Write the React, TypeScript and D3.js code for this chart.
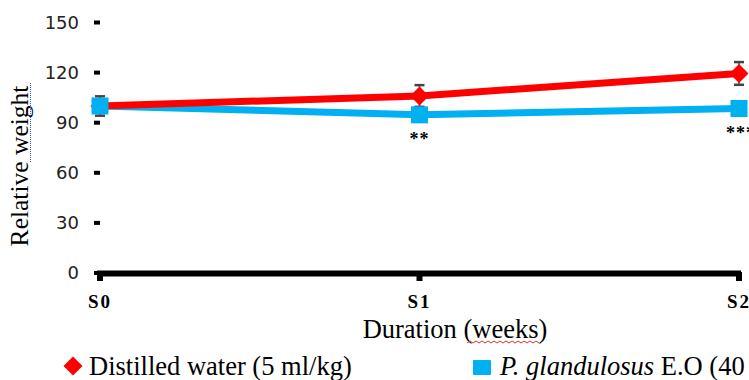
import React from 'react';
import * as d3 from 'd3';

const weeks = ['S0', 'S1', 'S2'];
const yTicks = [0, 30, 60, 90, 120, 150];
const waterMean = [100, 106, 119.5];
const waterErr = [3, 6.5, 6.8];
const oilMean = [100, 94.7, 98.5];
const oilErr = [5.8, 3, 3];
const stars = ['', '**', '***'];

const width = 749;
const height = 380;
const serif = "'Liberation Serif', 'Times New Roman', serif";

const App = () => {
  const x = d3.scalePoint().domain(weeks).range([100, 739]);
  const y = d3.scaleLinear().domain([0, 150]).range([273, 22.5]);

  const line = d3.line<number>()
    .x((d, i) => x(weeks[i])!)
    .y(d => y(d));

  const diamond = d3.symbol().type(d3.symbolDiamond2).size(230)();

  return (
    <svg width={width} height={height} style={{ position: 'absolute', left: 0, top: 0 }}>
      <rect width={width} height={height} fill="#fff" />

      {/* y ticks: only small square marks, no axis line */}
      <g fontFamily="'DejaVu Sans', Verdana, sans-serif" fontSize={18} fill="#222">
        {yTicks.map(t => (
          <g key={t}>
            <rect x={94} y={y(t) - 2} width={6} height={4} fill="#000" />
            <text x={79} y={y(t)} dy="0.35em" textAnchor="end">{t}</text>
          </g>
        ))}
      </g>

      {/* x axis */}
      <rect x={97} y={270.5} width={644} height={6} fill="#000" />
      {weeks.map(w => (
        <g key={w}>
          <rect x={x(w)! - 3} y={272} width={6} height={9} fill="#000" />
          <text x={x(w)} y={308} textAnchor="middle" fontFamily={serif}
            fontWeight="bold" fontSize={19} letterSpacing={2}>{w}</text>
        </g>
      ))}

      {/* error bars */}
      {[{ m: waterMean, e: waterErr }, { m: oilMean, e: oilErr }].map((s, si) => (
        <g key={si} stroke="#444" strokeWidth={1.5}>
          {s.m.map((v, i) => {
            const cx = x(weeks[i])!;
            return (
              <g key={i}>
                <line x1={cx} x2={cx} y1={y(v - s.e[i])} y2={y(v + s.e[i])} />
                <line x1={cx - 5} x2={cx + 5} y1={y(v + s.e[i])} y2={y(v + s.e[i])} strokeWidth={2.5} />
                <line x1={cx - 5} x2={cx + 5} y1={y(v - s.e[i])} y2={y(v - s.e[i])} strokeWidth={2.5} />
              </g>
            );
          })}
        </g>
      ))}

      {/* lines */}
      <path d={line(oilMean)!} fill="none" stroke="#00b0f0" strokeWidth={7} />
      <path d={line(waterMean)!} fill="none" stroke="#ff0000" strokeWidth={7} />

      {/* markers */}
      {waterMean.map((v, i) => (
        <path key={i} d={diamond!} transform={`translate(${x(weeks[i])},${y(v)})`} fill="#ff0000" />
      ))}
      {oilMean.map((v, i) => (
        <rect key={i} x={x(weeks[i])! - 8.5} y={y(v) - 8.5} width={17} height={17} fill="#00b0f0" />
      ))}

      {/* significance */}
      {oilMean.map((v, i) => (
        <text key={i} x={x(weeks[i])!} y={y(v) + 30} textAnchor={i === 2 ? 'start' : 'middle'}
          dx={i === 2 ? -13 : 0}
          fontFamily={serif} fontWeight="bold" fontSize={18} letterSpacing={1}>
          {stars[i]}
        </text>
      ))}

      {/* axis titles */}
      <text transform="translate(28,166) rotate(-90)" textAnchor="middle"
        fontFamily={serif} fontSize={25.5}>Relative weight</text>
      <line x1={30.5} x2={30.5} y1={83} y2={162} stroke="#3050ff" strokeWidth={1} strokeDasharray="1 1" />
      <text x={455} y={338} textAnchor="middle" fontFamily={serif} fontSize={26.5}>Duration (weeks)</text>
      <path d={d3.range(467, 542, 3).map((px, i) => `${i ? 'L' : 'M'}${px},${i % 2 ? 341 : 343}`).join('')}
        fill="none" stroke="#e03030" strokeWidth={1} />

      {/* legend */}
      <g fontFamily={serif} fontSize={26.5}>
        <path d={diamond!} transform="translate(73,366)" fill="#ff0000" />
        <text x={89} y={375}>Distilled water (5 ml/kg)</text>
        <rect x={473} y={360} width={18} height={15} rx={1} fill="#00b0f0" />
        <text x={500} y={375}>
          <tspan fontStyle="italic">P. glandulosus</tspan> E.O (40
        </text>
      </g>
    </svg>
  );
};

export default App;
